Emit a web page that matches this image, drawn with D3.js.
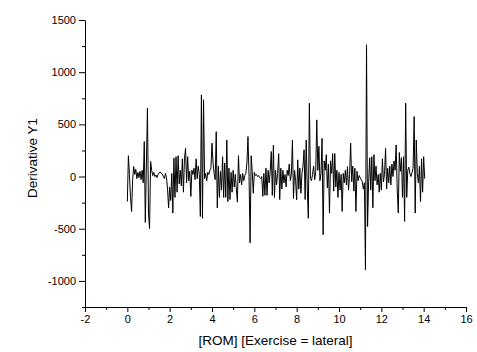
<!DOCTYPE html>
<html>
<head>
<meta charset="utf-8">
<script src="https://cdn.jsdelivr.net/npm/d3@7"></script>
<style>
  body { margin: 0; background: #fff; }
  svg text { font-family: Arial, 'Liberation Sans', sans-serif; }
</style>
</head>
<body>
<div id="chart"></div>
<script>
// ROM position
var rom = [
  0, 0.05, 0.1, 0.15, 0.2, 0.25, 0.3, 0.35, 0.4, 0.45, 0.5, 0.55, 0.6, 0.65, 0.7, 0.75, 0.8, 0.85, 0.9, 0.95,
  1, 1.05, 1.1, 1.15, 1.2, 1.25, 1.3, 1.35, 1.4, 1.45, 1.5, 1.55, 1.6, 1.65, 1.7, 1.75, 1.8, 1.85, 1.9, 1.95,
  2, 2.05, 2.1, 2.15, 2.2, 2.25, 2.3, 2.35, 2.4, 2.45, 2.5, 2.55, 2.6, 2.65, 2.7, 2.75, 2.8, 2.85, 2.9, 2.95,
  3, 3.05, 3.1, 3.15, 3.2, 3.25, 3.3, 3.35, 3.4, 3.45, 3.5, 3.55, 3.6, 3.65, 3.7, 3.75, 3.8, 3.85, 3.9, 3.95,
  4, 4.05, 4.1, 4.15, 4.2, 4.25, 4.3, 4.35, 4.4, 4.45, 4.5, 4.55, 4.6, 4.65, 4.7, 4.75, 4.8, 4.85, 4.9, 4.95,
  5, 5.05, 5.1, 5.15, 5.2, 5.25, 5.3, 5.35, 5.4, 5.45, 5.5, 5.55, 5.6, 5.65, 5.7, 5.75, 5.8, 5.85, 5.9, 5.95,
  6, 6.05, 6.1, 6.15, 6.2, 6.25, 6.3, 6.35, 6.4, 6.45, 6.5, 6.55, 6.6, 6.65, 6.7, 6.75, 6.8, 6.85, 6.9, 6.95,
  7, 7.05, 7.1, 7.15, 7.2, 7.25, 7.3, 7.35, 7.4, 7.45, 7.5, 7.55, 7.6, 7.65, 7.7, 7.75, 7.8, 7.85, 7.9, 7.95,
  8, 8.05, 8.1, 8.15, 8.2, 8.25, 8.3, 8.35, 8.4, 8.45, 8.5, 8.55, 8.6, 8.65, 8.7, 8.75, 8.8, 8.85, 8.9, 8.95,
  9, 9.05, 9.1, 9.15, 9.2, 9.25, 9.3, 9.35, 9.4, 9.45, 9.5, 9.55, 9.6, 9.65, 9.7, 9.75, 9.8, 9.85, 9.9, 9.95,
  10, 10.05, 10.1, 10.15, 10.2, 10.25, 10.3, 10.35, 10.4, 10.45, 10.5, 10.55, 10.6, 10.65, 10.7, 10.75, 10.8, 10.85, 10.9, 10.95,
  11, 11.05, 11.1, 11.15, 11.2, 11.25, 11.3, 11.35, 11.4, 11.45, 11.5, 11.55, 11.6, 11.65, 11.7, 11.75, 11.8, 11.85, 11.9, 11.95,
  12, 12.05, 12.1, 12.15, 12.2, 12.25, 12.3, 12.35, 12.4, 12.45, 12.5, 12.55, 12.6, 12.65, 12.7, 12.75, 12.8, 12.85, 12.9, 12.95,
  13, 13.05, 13.1, 13.15, 13.2, 13.25, 13.3, 13.35, 13.4, 13.45, 13.5, 13.55, 13.6, 13.65, 13.7, 13.75, 13.8, 13.85, 13.9, 13.95,
  14, 14.05
]

// Derivative Y1 at each ROM position
var derivY1 = [
  -240, 200, 20, -200, -335, -30, 96, 20, 70, -20, 40, -10, 50, -30, 60, -60, 335, -440, 120, 655,
  -350, -500, 145, 60, 10, 40, 0, 15, -10, 20, 35, 45, 30, 25, 0, -20, 30, -10, -120, -300,
  -100, -230, 30, -350, 176, -200, 190, -150, 200, -70, 60, -90, 170, -150, 170, 270, -60, 190, -40, 50,
  -190, 60, 20, 80, -30, 170, -20, 100, 20, -383, 783, -400, 735, -20, 30, -40, 40, 20, 60, 80,
  320, 130, 30, -30, 430, -300, 100, -200, 50, -130, 190, -200, 130, -200, 350, -240, 80, -220, 40, -150,
  60, -100, 20, -120, -245, 200, -60, 20, -80, 30, -40, 10, 30, 130, 383, 0, -635, 200, 50, -160,
  40, 10, 20, 0, 10, -10, -20, 0, -190, 30, -180, 80, -180, 60, -60, 50, 240, -180, 300, -200,
  60, -80, 30, 220, -220, 80, -120, 60, -60, 20, -100, 60, 10, 120, -40, 20, 350, -210, 60, -40,
  -223, 160, -120, 80, -160, 30, 100, 256, -220, 350, -100, -400, 703, -20, -40, 20, 100, -30, 40, 543,
  60, 290, -40, 30, 365, -558, 150, 60, 210, -110, 120, -350, 150, 30, 220, -140, 220, -100, 60, -200,
  40, -130, 20, -335, 30, -60, 60, -80, 95, -130, 20, 320, -50, 100, -140, 80, -335, 50, -40, 10,
  -10, -30, -50, -120, -60, -894, 1262, -479, -50, 180, -130, 190, -300, 210, -40, 100, -80, 20, -150, 30,
  -130, 170, -50, 20, 270, -120, 80, -60, 100, -80, 120, 0, 150, 60, 303, -120, -350, 230, 50, 180,
  -200, 190, -430, 703, -200, 60, 90, 30, 0, 40, 80, 575, -350, 350, 30, -60, 100, -240, 170, -150,
  190, -20
]

var xTicks = [-2, 0, 2, 4, 6, 8, 10, 12, 14, 16]
var xMinorTicks = [-1, 1, 3, 5, 7, 9, 11, 13, 15]
var yTicks = [-1000, -500, 0, 500, 1000, 1500]
var yMinorTicks = [-1250, -750, -250, 250, 750, 1250]

var svgWidth = 477
var svgHeight = 352
var margin = { top: 20, left: 85, right: 11, bottom: 45 }

var svg = d3.select('#chart')
  .append('svg')
  .attr('width', svgWidth)
  .attr('height', svgHeight)

var xPositionScale = d3.scaleLinear()
  .domain([-2, 16])
  .range([margin.left, svgWidth - margin.right])

var yPositionScale = d3.scaleLinear()
  .domain([-1250, 1500])
  .range([svgHeight - margin.bottom, margin.top])

var points = rom.map(function (d, i) {
  return { rom: d, value: derivY1[i] }
})

var line = d3.line()
  .x(function (d) { return xPositionScale(d.rom) })
  .y(function (d) { return yPositionScale(d.value) })

svg.append('path')
  .datum(points)
  .attr('d', line)
  .attr('fill', 'none')
  .attr('stroke', '#000')
  .attr('stroke-width', 1)

// plain labels: no thousands comma, hyphen minus
var plain = function (d) { return String(d) }

// axes with major ticks + short minor ticks
var xAxis = d3.axisBottom(xPositionScale)
  .tickValues(xTicks)
  .tickFormat(plain)
  .tickSize(5)
  .tickSizeOuter(0)
  .tickPadding(3)
svg.append('g')
  .attr('class', 'axis x-axis')
  .attr('transform', 'translate(0,' + (svgHeight - margin.bottom) + ')')
  .call(xAxis)

svg.append('g')
  .attr('transform', 'translate(0,' + (svgHeight - margin.bottom) + ')')
  .call(d3.axisBottom(xPositionScale).tickValues(xMinorTicks).tickSize(3).tickFormat(''))
  .select('.domain').remove()

var yAxis = d3.axisLeft(yPositionScale)
  .tickValues(yTicks)
  .tickFormat(plain)
  .tickSize(6)
  .tickSizeOuter(0)
  .tickPadding(3)
svg.append('g')
  .attr('class', 'axis y-axis')
  .attr('transform', 'translate(' + margin.left + ',0)')
  .call(yAxis)

svg.append('g')
  .attr('transform', 'translate(' + margin.left + ',0)')
  .call(d3.axisLeft(yPositionScale).tickValues(yMinorTicks).tickSize(3).tickFormat(''))
  .select('.domain').remove()

svg.selectAll('.axis text')
  .attr('font-size', '11px')
  .attr('fill', '#000')
svg.selectAll('g line, g path.domain')
  .attr('stroke', '#000')

svg.append('text')
  .text('[ROM] [Exercise = lateral]')
  .attr('x', (margin.left + svgWidth - margin.right) / 2)
  .attr('y', 345)
  .attr('text-anchor', 'middle')
  .attr('font-size', '13.5px')

svg.append('text')
  .text('Derivative Y1')
  .attr('transform', 'translate(37,158) rotate(-90)')
  .attr('text-anchor', 'middle')
  .attr('font-size', '13.5px')
</script>
</body>
</html>
